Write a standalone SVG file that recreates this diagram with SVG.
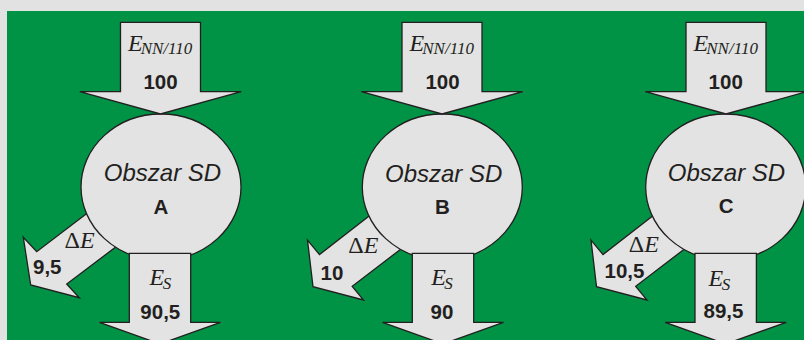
<svg xmlns="http://www.w3.org/2000/svg" width="804" height="340" viewBox="0 0 804 340">
<style>
.sh{fill:#e2e3e2;stroke:#231f20;stroke-width:1.3;stroke-linejoin:miter}
.ti{font-family:"Liberation Serif","Times New Roman",serif;font-style:italic;font-size:24px;fill:#231f20}
.sub{font-size:17px}
.up{font-style:normal}
.num{font-family:"Liberation Sans",Arial,sans-serif;font-weight:bold;font-size:20.5px;fill:#231f20}
.obs{font-family:"Liberation Sans",Arial,sans-serif;font-style:italic;font-size:24px;fill:#231f20;text-anchor:middle}
.mid{text-anchor:middle}
</style>
<rect x="0" y="0" width="804" height="340" fill="#e1e2e1"/>
<rect x="7" y="11" width="797" height="329" fill="#009245"/>

<g id="connectors-loss">
  <polygon class="sh" points="97.6,205.2 36.7,251.7 23.3,237.3 30.7,285 79.3,297.7 66.7,284 126.9,238.6"/>
  <polygon class="sh" points="380.4,207.2 319.5,254.6 307.5,240 313,286.7 363.5,300 352.2,286.3 410.9,241.4"/>
  <polygon class="sh" points="663.9,207.2 603,254.6 591,240 596.5,286.7 647,300 635.7,286.3 694.4,241.4"/>
</g>

<g id="node-A">
  <ellipse class="sh" cx="161" cy="187" rx="80" ry="73"/>
</g>
<g id="node-B">
  <ellipse class="sh" cx="442.3" cy="187" rx="80" ry="73"/>
</g>
<g id="node-C">
  <ellipse class="sh" cx="725.7" cy="187" rx="80" ry="73"/>
</g>

<g id="connectors">
  <polygon class="sh" points="120.5,22.3 200.5,22.3 200.5,91.7 241.2,91.7 160.5,114 79.8,91.7 120.5,91.7"/>
  <polygon class="sh" points="402,22.3 482,22.3 482,91.7 522.7,91.7 442,114 361.3,91.7 402,91.7"/>
  <polygon class="sh" points="686,22.3 766,22.3 766,91.7 806.7,91.7 726,114 645.3,91.7 686,91.7"/>
  <polygon class="sh" points="129.3,253.3 190.7,253.3 190.7,322.3 220.5,322.3 160,344 99.5,322.3 129.3,322.3"/>
  <polygon class="sh" points="412.3,253.3 473.7,253.3 473.7,322.3 503.5,322.3 443,344 382.5,322.3 412.3,322.3"/>
  <polygon class="sh" points="695,253.3 756.4,253.3 756.4,322.3 786.2,322.3 725.7,344 665.2,322.3 695,322.3"/>
</g>

<g id="labels">
  <text class="ti" x="128" y="51">E<tspan class="sub" dx="-2" dy="3">NN/110</tspan></text>
  <text class="ti" x="409.6" y="51">E<tspan class="sub" dx="-2" dy="3">NN/110</tspan></text>
  <text class="ti" x="693.6" y="51">E<tspan class="sub" dx="-2" dy="3">NN/110</tspan></text>
  <text class="num mid" x="160.5" y="89">100</text>
  <text class="num mid" x="442.5" y="89">100</text>
  <text class="num mid" x="725.7" y="89">100</text>

  <text class="obs" x="162.5" y="181">Obszar SD</text>
  <text class="obs" x="443.7" y="181.5">Obszar SD</text>
  <text class="obs" x="726.5" y="181">Obszar SD</text>
  <text class="num mid" x="161" y="214">A</text>
  <text class="num mid" x="442.5" y="214.3">B</text>
  <text class="num mid" x="726.2" y="213">C</text>

  <text class="ti" x="64.5" y="247.5"><tspan class="up">Δ</tspan>E</text>
  <text class="ti" x="348.2" y="252.7"><tspan class="up">Δ</tspan>E</text>
  <text class="ti" x="628.8" y="251.7"><tspan class="up">Δ</tspan>E</text>
  <text class="num" x="33" y="274">9,5</text>
  <text class="num" x="320.5" y="280">10</text>
  <text class="num" x="604.5" y="278.3">10,5</text>

  <text class="ti" x="149.5" y="284.5">E<tspan class="sub" dx="-1.5" dy="4">S</tspan></text>
  <text class="ti" x="431.2" y="285">E<tspan class="sub" dx="-1.5" dy="4">S</tspan></text>
  <text class="ti" x="708.5" y="285.5">E<tspan class="sub" dx="-1.5" dy="4">S</tspan></text>
  <text class="num mid" x="160.3" y="319">90,5</text>
  <text class="num mid" x="442" y="319">90</text>
  <text class="num mid" x="723.5" y="318">89,5</text>
</g>
</svg>
